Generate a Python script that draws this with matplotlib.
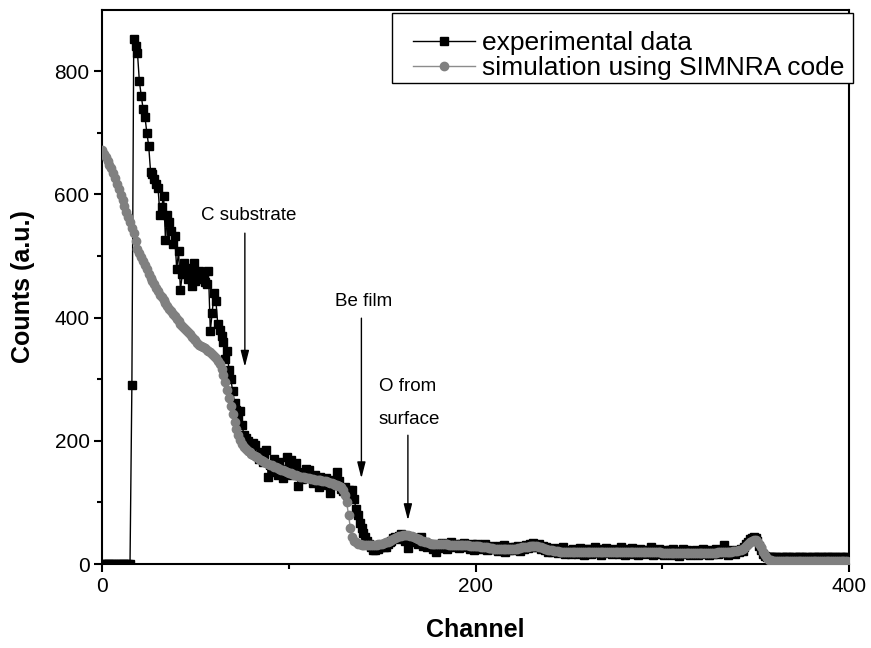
import numpy as np
import matplotlib
matplotlib.use('Agg')
import matplotlib.pyplot as plt
import matplotlib.patches as patches

plt.rcParams['font.family'] = ['Liberation Sans', 'DejaVu Sans']

# channel numbers (one value per channel)
channel = np.arange(0, 400)

exp_counts = [
    0, 0, 0, 0, 0, 0, 0, 0, 0, 0,
    0, 0, 0, 0, 0, 0, 290, 852, 840, 829,
    784, 760, 739, 726, 700, 679, 637, 633, 625, 616,
    611, 567, 580, 597, 526, 567, 555, 540, 520, 532,
    478, 508, 445, 470, 489, 480, 462, 475, 451, 489,
    460, 470, 475, 462, 470, 458, 454, 475, 378, 408,
    440, 427, 389, 380, 370, 360, 332, 345, 315, 300,
    280, 262, 250, 235, 248, 225, 210, 205, 200, 190,
    185, 196, 193, 175, 170, 182, 165, 178, 185, 142,
    160, 150, 170, 158, 145, 165, 155, 140, 150, 174,
    160, 168, 145, 150, 164, 126, 150, 138, 145, 155,
    148, 153, 140, 132, 145, 138, 125, 142, 135, 130,
    140, 128, 115, 130, 136, 128, 150, 135, 122, 118,
    125, 112, 120, 118, 120, 105, 90, 80, 66, 58,
    50, 44, 38, 32, 28, 23, 23, 26, 24, 28,
    30, 27, 28, 32, 35, 38, 42, 44, 40, 45,
    48, 42, 38, 45, 26, 40, 36, 42, 38, 33,
    36, 44, 30, 35, 28, 32, 30, 25, 28, 20,
    30, 26, 34, 28, 33, 24, 30, 35, 27, 32,
    31, 26, 33, 29, 34, 27, 30, 25, 33, 23,
    28, 32, 24, 30, 26, 33, 22, 28, 25, 30,
    24, 27, 21, 29, 25, 31, 20, 26, 23, 28,
    22, 27, 24, 30, 21, 28, 25, 31, 26, 33,
    28, 34, 30, 27, 33, 25, 29, 22, 27, 20,
    24, 19, 26, 21, 18, 25, 20, 27, 17, 23,
    21, 16, 25, 19, 23, 17, 26, 20, 15, 24,
    19, 25, 17, 22, 28, 18, 21, 15, 24, 20,
    26, 18, 22, 16, 25, 19, 23, 17, 27, 20,
    15, 24, 18, 22, 26, 17, 21, 14, 25, 19,
    23, 16, 22, 18, 27, 15, 21, 19, 24, 16,
    20, 14, 23, 18, 22, 15, 25, 17, 21, 13,
    19, 24, 16, 22, 18, 14, 21, 17, 23, 15,
    20, 16, 24, 18, 21, 14, 22, 17, 19, 25,
    16, 22, 18, 31, 20, 15, 23, 18, 21, 17,
    22, 19, 24, 21, 27, 32, 36, 40, 43, 44,
    42, 38, 30, 22, 16, 13, 12, 11, 12, 11,
    11, 12, 10, 11, 12, 10, 11, 12, 11, 10,
    12, 11, 10, 11, 12, 11, 10, 11, 12, 10,
    11, 12, 10, 11, 12, 11, 10, 11, 12, 11,
    10, 11, 12, 11, 10, 11, 12, 10, 11, 11,
]

# SIMNRA simulation (10 channels per row)
sim_counts = [
    672, 666, 660, 654, 648, 642, 635, 626, 617, 608,
    599, 590, 581, 572, 563, 555, 546, 538, 525, 512,
    505, 498, 491, 485, 478, 471, 465, 459, 454, 448,
    443, 437, 433, 428, 423, 419, 414, 410, 406, 402,
    398, 394, 390, 386, 383, 380, 376, 373, 369, 366,
    363, 359, 356, 354, 352, 350, 348, 346, 344, 341,
    338, 335, 330, 324, 316, 306, 295, 283, 270, 257,
    244, 231, 219, 209, 201, 195, 190, 186, 183, 181,
    179, 177, 175, 173, 171, 169, 167, 166, 164, 163,
    161, 160, 158, 157, 156, 154, 153, 152, 151, 150,
    148, 147, 146, 145, 144, 143, 142, 141, 141, 140,
    139, 139, 138, 138, 137, 137, 136, 136, 135, 135,
    134, 133, 132, 131, 130, 129, 128, 127, 125, 120,
    112, 100, 80, 58, 44, 38, 35, 33, 32, 31,
    31, 31, 31, 31, 31, 31, 31, 31, 32, 32,
    33, 34, 35, 36, 38, 39, 41, 42, 44, 45,
    46, 47, 47, 47, 47, 46, 45, 44, 42, 41,
    40, 38, 37, 36, 35, 34, 33, 33, 32, 32,
    32, 32, 32, 32, 32, 32, 31, 31, 31, 31,
    31, 31, 31, 31, 31, 31, 31, 30, 30, 30,
    30, 29, 29, 28, 28, 27, 27, 26, 26, 26,
    25, 25, 25, 25, 25, 25, 25, 25, 25, 25,
    25, 25, 25, 26, 26, 27, 27, 28, 28, 29,
    29, 30, 30, 29, 28, 27, 26, 25, 24, 23,
    22, 22, 21, 21, 21, 20, 20, 20, 20, 20,
    20, 20, 20, 20, 20, 20, 20, 20, 20, 20,
    20, 20, 20, 20, 20, 20, 20, 20, 20, 20,
    20, 20, 20, 20, 20, 20, 20, 20, 20, 20,
    19, 19, 19, 19, 19, 19, 19, 19, 19, 19,
    19, 19, 19, 19, 19, 19, 19, 19, 19, 19,
    18, 18, 18, 18, 18, 18, 18, 18, 18, 18,
    18, 18, 18, 18, 18, 18, 18, 18, 18, 18,
    18, 18, 18, 18, 18, 18, 18, 18, 18, 18,
    19, 19, 19, 20, 20, 20, 20, 20, 21, 21,
    21, 22, 23, 24, 26, 29, 33, 36, 38, 39,
    39, 37, 33, 27, 20, 14, 10, 7, 6, 5,
    5, 5, 5, 5, 5, 5, 5, 5, 5, 5,
    5, 5, 5, 5, 5, 5, 5, 5, 5, 5,
    5, 5, 5, 5, 5, 5, 5, 5, 5, 5,
    5, 5, 5, 5, 5, 5, 5, 5, 5, 5,
]

# annotations: text and position, arrows as (start, tip)
notes = [('C substrate', (52.8, 558)),
         ('Be film', (124.6, 418)),
         ('O from', (148.1, 280)),
         ('surface', (148.1, 228))]
arrows = [((76.5, 537), (76.5, 320)),
          ((138.9, 399), (138.9, 139)),
          ((163.8, 209), (163.8, 71))]

W, H = 871, 648
fig = plt.figure(figsize=(W / 100, H / 100), dpi=100)
ax = fig.add_axes([102 / W, 84 / H, 747 / W, 554.5 / H])

l1, = ax.plot(channel, exp_counts, color='black', lw=1, marker='s', ms=6,
              mfc='black', mec='black', zorder=2)
l2, = ax.plot(channel, sim_counts, color='#8c8c8c', lw=1, marker='o', ms=6,
              mfc='#808080', mec='#808080', zorder=3)

for txt, (x, y) in notes:
    ax.text(x, y, txt, fontsize=13.5, ha='left', va='baseline')
for (x0, y0), (x1, y1) in arrows:
    ax.annotate('', xy=(x1, y1), xytext=(x0, y0),
                arrowprops=dict(arrowstyle='-|>,head_length=0.7,head_width=0.18',
                                color='black', lw=1, mutation_scale=14,
                                shrinkA=0, shrinkB=0))

ax.set_xlim(0, 400)
ax.set_ylim(0, 900)
ax.set_xticks([0, 200, 400])
ax.set_xticks([100, 300], minor=True)
ax.set_yticks([0, 200, 400, 600, 800])
ax.set_yticks([100, 300, 500, 700], minor=True)
ax.tick_params(which='major', direction='out', length=6, width=1.5, labelsize=15, pad=3)
ax.tick_params(which='minor', direction='out', length=3.5, width=1.5)
for s in ax.spines.values():
    s.set_linewidth(1.5)

ax.set_xlabel('Channel', fontsize=18, fontweight='bold', labelpad=16)
ax.set_ylabel('Counts (a.u.)', fontsize=18, fontweight='bold', labelpad=14)

# legend frame drawn separately (wider left padding than matplotlib gives)
box = patches.Rectangle((392 / W, 1 - 83 / H), 461 / W, 70 / H,
                        transform=fig.transFigure, facecolor='white',
                        edgecolor='black', linewidth=1, zorder=4)
fig.patches.append(box)
fig.legend([l1, l2], ['experimental data', 'simulation using SIMNRA code'],
           loc='upper left', bbox_to_anchor=(413 / W, 1 - 31 / H),
           bbox_transform=fig.transFigure, borderaxespad=0, borderpad=0,
           fontsize=19, frameon=False, handlelength=2.35, handletextpad=0.25,
           labelspacing=0.05)

fig.savefig('out.png', dpi=100)
